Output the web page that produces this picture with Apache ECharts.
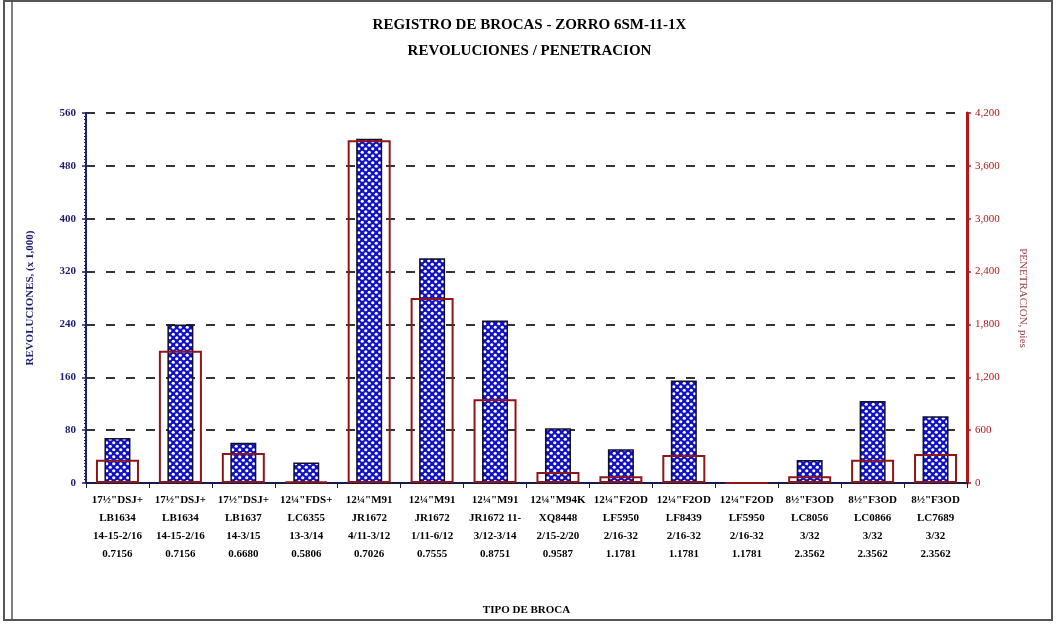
<!DOCTYPE html>
<html>
<head>
<meta charset="utf-8">
<script src="https://cdn.jsdelivr.net/npm/echarts@6/dist/echarts.min.js"></script>
<style>
  html, body { margin: 0; padding: 0; background: #fff; }
  #chart { width: 1059px; height: 624px; }
</style>
</head>
<body>
<div id="chart"></div>
<script>
const brocas = [
  '17½"DSJ+\nLB1634\n14-15-2/16\n0.7156',
  '17½"DSJ+\nLB1634\n14-15-2/16\n0.7156',
  '17½"DSJ+\nLB1637\n14-3/15\n0.6680',
  '12¼"FDS+\nLC6355\n13-3/14\n0.5806',
  '12¼"M91\nJR1672\n4/11-3/12\n0.7026',
  '12¼"M91\nJR1672\n1/11-6/12\n0.7555',
  '12¼"M91\nJR1672 11-\n3/12-3/14\n0.8751',
  '12¼"M94K\nXQ8448\n2/15-2/20\n0.9587',
  '12¼"F2OD\nLF5950\n2/16-32\n1.1781',
  '12¼"F2OD\nLF8439\n2/16-32\n1.1781',
  '12¼"F2OD\nLF5950\n2/16-32\n1.1781',
  '8½"F3OD\nLC8056\n3/32\n2.3562',
  '8½"F3OD\nLC0866\n3/32\n2.3562',
  '8½"F3OD\nLC7689\n3/32\n2.3562'
];
// revoluciones (x 1,000) - eje izquierdo
const revoluciones = [68, 240, 61, 31, 521, 340, 246, 83, 51, 155, 0, 35, 124, 101];
// penetracion, pies - eje derecho
const penetracion = [265, 1500, 341, 15, 3890, 2100, 950, 125, 76, 318, 0, 76, 265, 329];

const serif = '"Liberation Serif", "DejaVu Serif", serif';

// patron azul con puntos blancos
function makeDots() {
  const c = document.createElement('canvas');
  c.width = 7; c.height = 7;
  const g = c.getContext('2d');
  g.fillStyle = '#1010c8';
  g.fillRect(0, 0, 7, 7);
  g.fillStyle = '#ffffff';
  g.beginPath(); g.arc(1.75, 1.75, 1.6, 0, Math.PI * 2); g.fill();
  g.beginPath(); g.arc(5.25, 5.25, 1.6, 0, Math.PI * 2); g.fill();
  return c;
}

const chart = echarts.init(document.getElementById('chart'));

const option = {
  backgroundColor: '#fff',
  animation: false,
  title: {
    text: 'REGISTRO DE BROCAS - ZORRO 6SM-11-1X\nREVOLUCIONES / PENETRACION',
    left: 'center',
    top: 7,
    textStyle: { fontFamily: serif, fontWeight: 'bold', fontSize: 15, color: '#000', lineHeight: 26 }
  },
  graphic: [
    { type: 'rect', shape: { x: 4, y: 1, width: 1048, height: 619 }, style: { fill: 'none', stroke: '#555', lineWidth: 2 } },
    { type: 'line', shape: { x1: 12, y1: 1, x2: 12, y2: 620 }, style: { stroke: '#555', lineWidth: 1.5 } }
  ],
  grid: { left: 86, right: 92, top: 113, bottom: 141 },
  xAxis: [
    {
      type: 'category',
      data: brocas,
      name: 'TIPO DE BROCA',
      nameLocation: 'middle',
      nameGap: 122,
      nameTextStyle: { fontFamily: serif, fontWeight: 'bold', fontSize: 11, color: '#000' },
      axisLine: { lineStyle: { color: '#1a1a4a', width: 2 } },
      axisTick: { show: true, length: 5, lineStyle: { color: '#1a1a4a' } },
      axisLabel: { fontFamily: serif, fontWeight: 'bold', fontSize: 11, color: '#000', lineHeight: 18, margin: 8, interval: 0 }
    },
    { type: 'category', data: brocas, show: false }
  ],
  yAxis: [
    {
      type: 'value',
      min: 0, max: 560, interval: 80,
      name: 'REVOLUCIONES, (x 1,000)',
      nameLocation: 'middle',
      nameGap: 50,
      nameTextStyle: { fontFamily: serif, fontWeight: 'bold', fontSize: 11, color: '#1e1e6e' },
      axisLine: { show: true, lineStyle: { color: '#1e1e6e', width: 2 } },
      axisTick: { show: true, inside: false, length: 4, lineStyle: { color: '#1e1e6e', width: 1.5 } },
      minorTick: { show: true, splitNumber: 16, length: 2, lineStyle: { color: '#1e1e6e' } },
      axisLabel: { fontFamily: serif, fontWeight: 'bold', fontSize: 11, color: '#1e1e6e', margin: 10 },
      splitLine: { show: true, lineStyle: { color: '#333', type: [9, 11], width: 2 } }
    },
    {
      type: 'value',
      min: 0, max: 4200, interval: 600,
      position: 'right',
      name: 'PENETRACION, pies',
      nameLocation: 'middle',
      nameGap: 50,
      nameRotate: -90,
      nameTextStyle: { fontFamily: serif, fontSize: 11, color: '#a0404a' },
      axisLine: { show: true, lineStyle: { color: '#b01818', width: 3 } },
      axisTick: { show: true, length: 4, lineStyle: { color: '#b01818', width: 1.5 } },
      minorTick: { show: true, splitNumber: 16, length: 2, lineStyle: { color: '#b01818' } },
      axisLabel: {
        fontFamily: serif, fontSize: 11, color: '#b01818', margin: 8,
        formatter: v => v.toLocaleString('en-US')
      },
      splitLine: { show: false }
    }
  ],
  series: [
    {
      name: 'Revoluciones',
      type: 'bar',
      xAxisIndex: 0,
      yAxisIndex: 0,
      data: revoluciones,
      barWidth: 26,
      itemStyle: {
        color: { image: makeDots(), repeat: 'repeat' },
        borderColor: '#101030',
        borderWidth: 1.5
      }
    },
    {
      name: 'Penetracion',
      type: 'bar',
      xAxisIndex: 1,
      yAxisIndex: 1,
      data: penetracion,
      barWidth: 43,
      z: 3,
      itemStyle: {
        color: 'rgba(0,0,0,0)',
        borderColor: '#8e1616',
        borderWidth: 2
      }
    }
  ]
};

chart.setOption(option);
</script>
</body>
</html>
